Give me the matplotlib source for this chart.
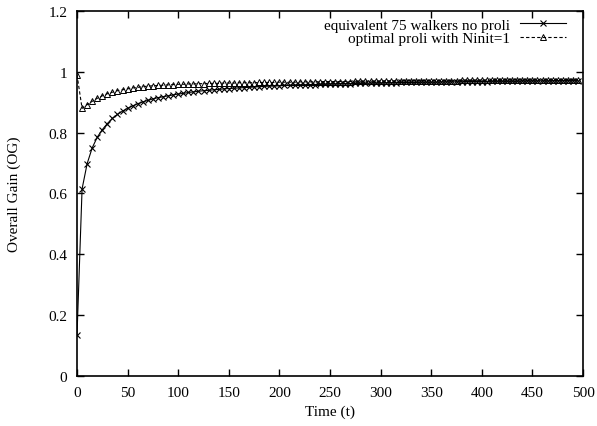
import numpy as np
import matplotlib.pyplot as plt

plt.rcParams['font.family'] = ['Liberation Serif', 'DejaVu Serif']

t = np.arange(0, 500, 5)

walkers = [0.135, 0.615, 0.698, 0.750, 0.785, 0.810, 0.830, 0.847, 0.860, 0.871,
           0.880, 0.888, 0.895, 0.901, 0.906, 0.911, 0.915, 0.918, 0.921, 0.924,
           0.927, 0.929, 0.932, 0.934, 0.936, 0.938, 0.939, 0.941, 0.942, 0.944,
           0.945, 0.946, 0.947, 0.948, 0.949, 0.950, 0.951, 0.952, 0.953, 0.953,
           0.954, 0.955, 0.955, 0.956, 0.957, 0.957, 0.958, 0.958, 0.959, 0.959,
           0.960, 0.960, 0.961, 0.961, 0.961, 0.962, 0.962, 0.962, 0.963, 0.963,
           0.963, 0.964, 0.964, 0.964, 0.965, 0.965, 0.965, 0.965, 0.966, 0.966,
           0.966, 0.966, 0.967, 0.967, 0.967, 0.967, 0.967, 0.968, 0.968, 0.968,
           0.968, 0.968, 0.969, 0.969, 0.969, 0.969, 0.969, 0.969, 0.970, 0.970,
           0.970, 0.970, 0.970, 0.970, 0.971, 0.971, 0.971, 0.971, 0.971, 0.971]

proli = [0.990, 0.880, 0.892, 0.903, 0.913, 0.921, 0.928, 0.933, 0.938, 0.941,
         0.944, 0.947, 0.949, 0.951, 0.953, 0.954, 0.955, 0.956, 0.957, 0.958,
         0.959, 0.959, 0.960, 0.960, 0.961, 0.961, 0.962, 0.962, 0.962, 0.963,
         0.963, 0.963, 0.964, 0.964, 0.964, 0.964, 0.965, 0.965, 0.965, 0.965,
         0.966, 0.966, 0.966, 0.966, 0.967, 0.967, 0.967, 0.967, 0.967, 0.968,
         0.968, 0.968, 0.968, 0.968, 0.968, 0.969, 0.969, 0.969, 0.969, 0.969,
         0.969, 0.970, 0.970, 0.970, 0.970, 0.970, 0.970, 0.970, 0.971, 0.971,
         0.971, 0.971, 0.971, 0.971, 0.971, 0.971, 0.972, 0.972, 0.972, 0.972,
         0.972, 0.972, 0.972, 0.972, 0.972, 0.973, 0.973, 0.973, 0.973, 0.973,
         0.973, 0.973, 0.973, 0.973, 0.973, 0.974, 0.974, 0.974, 0.974, 0.974]

labels = ['equivalent 75 walkers no proli', 'optimal proli with Ninit=1']

fig = plt.figure(figsize=(5.97, 4.27), dpi=100)
ax = fig.add_axes([0.129, 0.117, 0.8476, 0.855])

ax.plot(t, walkers, color='black', lw=0.8, marker='x', ms=4, mew=0.8,
        label=labels[0])
ax.plot(t, proli, color='black', lw=0.8, ls=(0, (3, 2)), marker='^', ms=4,
        mew=0.7, mfc='none', label=labels[1])

ax.set_xlim(0, 500)
ax.set_ylim(0, 1.2)
ax.set_xticks(np.arange(0, 501, 50))
ax.set_yticks([0, 0.2, 0.4, 0.6, 0.8, 1.0, 1.2])
ax.set_yticklabels(['0', '0.2', '0.4', '0.6', '0.8', '1', '1.2'])
ax.tick_params(direction='in', length=5, width=1, top=True, right=True,
               labelsize=11, pad=7)
for s in ax.spines.values():
    s.set_linewidth(1.2)

ax.set_xlabel('Time (t)', fontsize=11, labelpad=4)
ax.set_ylabel('Overall Gain (OG)', fontsize=11, labelpad=20)

leg = ax.legend(loc='upper right', frameon=False, markerfirst=False,
                fontsize=11, handlelength=3.0, borderpad=0, borderaxespad=0,
                bbox_to_anchor=(1 - 17 / 506, 1 - 7 / 365),
                labelspacing=0.0, handletextpad=0.7)
leg._legend_handle_box.get_children()[0].align = 'right'

fig.savefig('out.png', dpi=100)
